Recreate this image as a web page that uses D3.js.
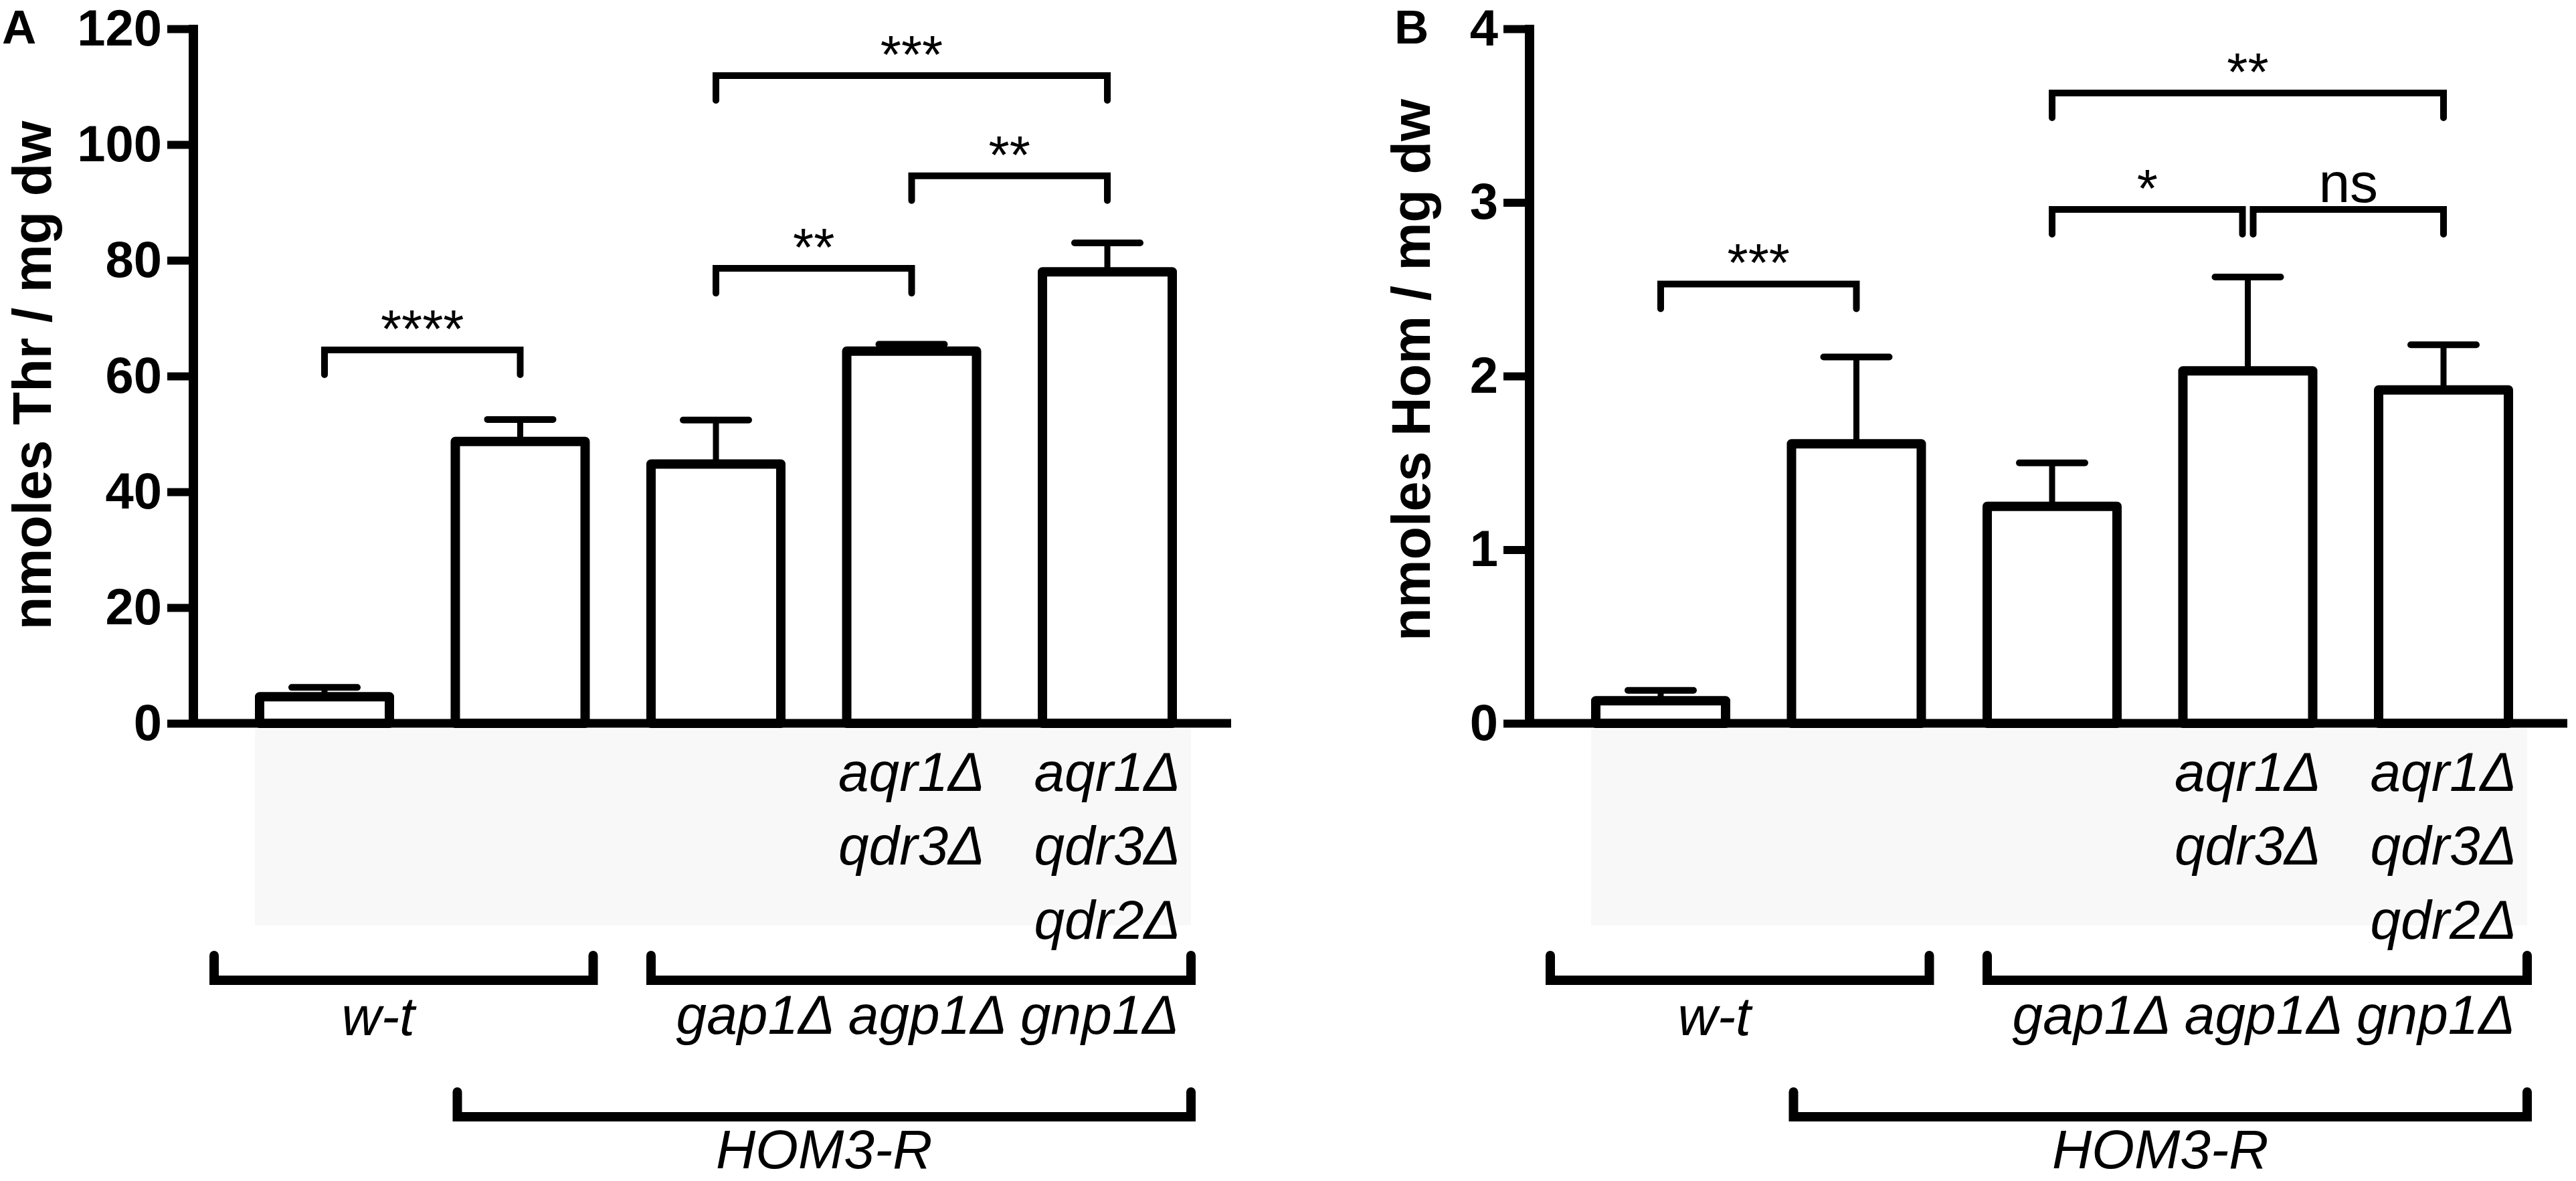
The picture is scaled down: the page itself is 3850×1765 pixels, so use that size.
<!DOCTYPE html>
<html>
<head>
<meta charset="utf-8">
<script src="https://cdn.jsdelivr.net/npm/d3@7"></script>
<style>
  html, body { margin: 0; padding: 0; background: #fff; }
  svg { display: block; }
</style>
</head>
<body>
<svg id="chart" width="3850" height="1765"></svg>
<script>
// Strains, left to right (same order in both panels)
var strains = ['wt', 'hom3r', 'gap', 'aqr1qdr3', 'aqr1qdr3qdr2'];

// Panel A: Thr content, mean and SEM
var thrMeans = [4.6, 48.7, 44.8, 64.3, 78.0];
var thrErrors = [1.6, 3.8, 7.6, 1.2, 5.0];
var thrTicks = [0, 20, 40, 60, 80, 100, 120];

// Panel B: Hom content, mean and SEM
var homMeans = [0.13, 1.61, 1.25, 2.03, 1.92];
var homErrors = [0.06, 0.50, 0.25, 0.54, 0.26];
var homTicks = [0, 1, 2, 3, 4];

// Significance brackets: bar indices, height in axis units, label
var thrSig = [
    {from: 0, to: 1, level: 64.5, label: '****'},
    {from: 2, to: 3, level: 78.6, label: '**'},
    {from: 3, to: 4, level: 94.6, label: '**'},
    {from: 2, to: 4, level: 111.9, label: '***'}
];
var homSig = [
    {from: 0, to: 1, level: 2.53, label: '***'},
    {from: 2, to: 3, level: 2.96, label: '*'},
    {from: 3, to: 4, level: 2.96, label: 'ns'},
    {from: 2, to: 4, level: 3.63, label: '**'}
];

// Extra deletions written under each bar, one array per text row
var deletionRows = [
    ['', '', '', 'aqr1Δ', 'aqr1Δ'],
    ['', '', '', 'qdr3Δ', 'qdr3Δ'],
    ['', '', '', '', 'qdr2Δ']
];
var wtLabel = 'w-t';
var gapLabel = 'gap1Δ agp1Δ gnp1Δ';
var homLabel = 'HOM3-R';

var FONT = '"Liberation Sans", Arial, Helvetica, sans-serif';
var svg = d3.select('#chart');

var x = d3.scaleBand()
    .domain(strains)
    .range([388, 1752])
    .paddingInner(0.3368)
    .paddingOuter(0);

var drawPanel = function(opts) {
    var g = svg.append('g').attr('transform', 'translate(' + opts.dx + ',0)');
    var y = d3.scaleLinear().domain([0, opts.max]).range([1081, 43]);
    var axisX = 289;
    var bw = x.bandwidth();
    var cx = function(i) { return x(strains[i]) + bw / 2; };
    var right = x(strains[4]) + bw + 28;

    // faint box behind the deletion labels
    g.append('rect')
        .attr('x', x(strains[0]) - 7)
        .attr('y', y(0) + 8)
        .attr('width', right - (x(strains[0]) - 7))
        .attr('height', 294)
        .attr('fill', '#f8f8f8');

    // bars
    g.selectAll('.bar')
        .data(opts.means)
        .enter().append('rect')
            .attr('class', 'bar')
            .attr('x', function(d, i) { return x(strains[i]); })
            .attr('y', function(d) { return y(d); })
            .attr('width', bw)
            .attr('height', function(d) { return y(0) - y(d); })
            .attr('fill', '#fff')
            .attr('stroke', '#000')
            .attr('stroke-width', 14)
            .attr('stroke-linejoin', 'round');

    // error bars (upper half only)
    g.selectAll('.err-stem')
        .data(opts.means)
        .enter().append('line')
            .attr('class', 'err-stem')
            .attr('x1', function(d, i) { return cx(i); })
            .attr('x2', function(d, i) { return cx(i); })
            .attr('y1', function(d) { return y(d); })
            .attr('y2', function(d, i) { return y(d + opts.errors[i]); })
            .attr('stroke', '#000')
            .attr('stroke-width', 9);
    g.selectAll('.err-cap')
        .data(opts.means)
        .enter().append('line')
            .attr('class', 'err-cap')
            .attr('x1', function(d, i) { return cx(i) - 49; })
            .attr('x2', function(d, i) { return cx(i) + 49; })
            .attr('y1', function(d, i) { return y(d + opts.errors[i]); })
            .attr('y2', function(d, i) { return y(d + opts.errors[i]); })
            .attr('stroke', '#000')
            .attr('stroke-width', 10)
            .attr('stroke-linecap', 'round');

    // x baseline
    g.append('line')
        .attr('x1', axisX).attr('x2', 1840)
        .attr('y1', y(0)).attr('y2', y(0))
        .attr('stroke', '#000')
        .attr('stroke-width', 13);

    // y axis
    var axis = g.append('g')
        .attr('transform', 'translate(' + axisX + ',0)')
        .call(d3.axisLeft(y)
            .tickValues(opts.ticks)
            .tickFormat(d3.format('d'))
            .tickSize(39)
            .tickSizeOuter(0)
            .tickPadding(8));
    axis.select('.domain').remove();
    axis.selectAll('.tick line').attr('stroke', '#000').attr('stroke-width', 12);
    axis.selectAll('.tick text')
        .attr('fill', '#000')
        .attr('font-family', FONT)
        .attr('font-weight', 'bold')
        .attr('font-size', 76);
    axis.attr('font-size', null).attr('font-family', null);
    g.append('line')
        .attr('x1', axisX).attr('x2', axisX)
        .attr('y1', y(0) + 6).attr('y2', y(opts.max) - 6)
        .attr('stroke', '#000')
        .attr('stroke-width', 14);

    // axis title
    g.append('text')
        .attr('transform', 'translate(' + opts.titleX + ',' + opts.titleY + ') rotate(-90)')
        .attr('text-anchor', 'middle')
        .attr('font-family', FONT)
        .attr('font-weight', 'bold')
        .attr('font-size', 81)
        .text(opts.title);

    // panel letter
    g.append('text')
        .attr('x', opts.letterX).attr('y', 65)
        .attr('font-family', FONT)
        .attr('font-weight', 'bold')
        .attr('font-size', 71)
        .text(opts.letter);

    // significance brackets
    opts.sig.forEach(function(s) {
        // pull the leg in when another bracket at the same level meets it
        var inL = opts.sig.some(function(o) {
            return o !== s && o.level === s.level && o.to === s.from;
        }) ? 8 : 0;
        var inR = opts.sig.some(function(o) {
            return o !== s && o.level === s.level && o.from === s.to;
        }) ? 8 : 0;
        var x1 = cx(s.from) + inL, x2 = cx(s.to) - inR, yy = y(s.level);
        g.append('path')
            .attr('d', 'M' + x1 + ',' + (yy + 37) + 'V' + yy + 'H' + x2 + 'V' + (yy + 37))
            .attr('fill', 'none')
            .attr('stroke', '#000')
            .attr('stroke-width', 10)
            .attr('stroke-linecap', 'round');
        var stars = /^\*+$/.test(s.label);
        g.append('text')
            .attr('x', (x1 + x2) / 2)
            .attr('y', yy - (stars ? 4 : 11))
            .attr('text-anchor', 'middle')
            .attr('font-family', FONT)
            .attr('font-size', stars ? 80 : 84)
            .text(s.label);
    });

    // deletion rows under bars
    var rowY = [1182, 1292, 1403];
    deletionRows.forEach(function(row, r) {
        var cells = row.map(function(t, i) { return {text: t, index: i}; })
            .filter(function(d) { return d.text !== ''; });
        g.selectAll('.row' + r)
            .data(cells)
            .enter().append('text')
                .attr('class', 'row' + r)
                .attr('x', function(d) { return cx(d.index); })
                .attr('y', rowY[r])
                .attr('text-anchor', 'middle')
                .attr('font-family', FONT)
                .attr('font-style', 'italic')
                .attr('font-size', 82)
                .text(function(d) { return d.text; });
    });

    // group brackets below
    var groupBracket = function(x1, x2, yy) {
        g.append('path')
            .attr('d', 'M' + x1 + ',' + (yy - 37) + 'V' + yy + 'H' + x2 + 'V' + (yy - 37))
            .attr('fill', 'none')
            .attr('stroke', '#000')
            .attr('stroke-width', 14)
            .attr('stroke-linecap', 'round');
    };
    var label = function(txt, xx, yy) {
        g.append('text')
            .attr('x', xx).attr('y', yy)
            .attr('text-anchor', 'middle')
            .attr('font-family', FONT)
            .attr('font-style', 'italic')
            .attr('font-size', 82)
            .text(txt);
    };
    var wt1 = x(strains[0]) - 68, wt2 = x(strains[1]) + bw + 12;
    groupBracket(wt1, wt2, 1465);
    label(wtLabel, (wt1 + wt2) / 2 - 38, 1547);

    var gp1 = x(strains[2]);
    groupBracket(gp1, right, 1465);
    label(gapLabel, (gp1 + right) / 2 + 10, 1545);

    var hm1 = x(strains[1]) + 3;
    groupBracket(hm1, right, 1669);
    label(homLabel, (hm1 + right) / 2, 1746);
};

drawPanel({
    dx: 0, max: 120, means: thrMeans, errors: thrErrors, ticks: thrTicks,
    sig: thrSig, title: 'nmoles Thr / mg dw', titleX: 76, titleY: 561,
    letter: 'A', letterX: 3
});
drawPanel({
    dx: 1997, max: 4, means: homMeans, errors: homErrors, ticks: homTicks,
    sig: homSig, title: 'nmoles Hom / mg dw', titleX: 140, titleY: 553,
    letter: 'B', letterX: 87
});
</script>
</body>
</html>
